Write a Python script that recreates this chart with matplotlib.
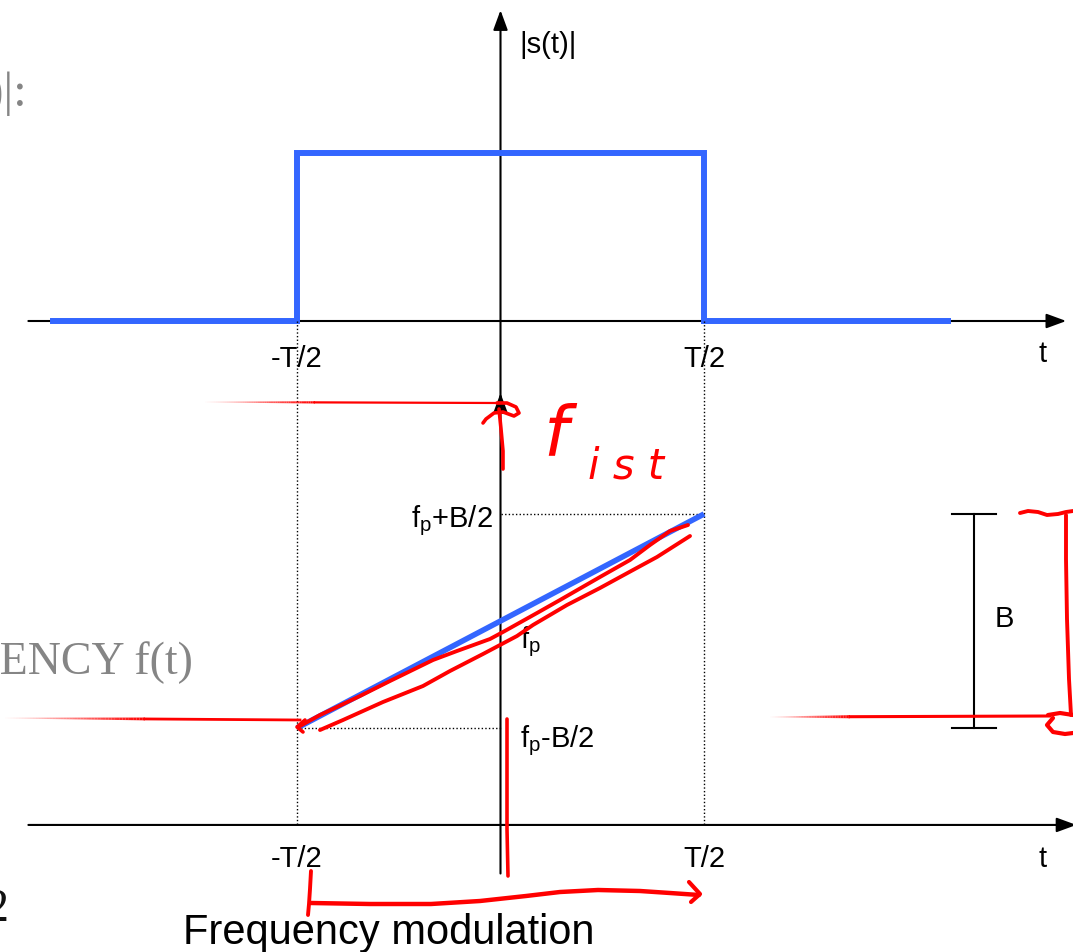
import matplotlib
matplotlib.use("Agg")
import matplotlib.pyplot as plt
import numpy as np
from matplotlib.collections import LineCollection

plt.rcParams['font.family'] = ['Liberation Sans', 'DejaVu Sans']
plt.rcParams['mathtext.fontset'] = 'custom'
plt.rcParams['mathtext.rm'] = 'Liberation Sans'
plt.rcParams['mathtext.it'] = 'Liberation Sans:italic'

W, H = 1073, 953
BLUE = '#3366ff'
RED = '#ff0000'

# envelope |s(t)| of the pulse, t in units of T
pulse_t = [-1.1, -0.5, -0.5, 0.5, 0.5, 1.1]
pulse_s = [0, 0, 1, 1, 0, 0]

# instantaneous frequency, offset from f_p in units of B
chirp_t = [-0.5, 0.5]
chirp_f = [-0.5, 0.5]

t_ticks = [-0.5, 0.5]
t_labels = ['-T/2', 'T/2']
f_top, f_mid, f_bot = 0.5, 0.0, -0.5
f_labels = [r'$\mathregular{f_p}$+B/2', r'$\mathregular{f_p}$', r'$\mathregular{f_p}$-B/2']


def limits(v0, p0, v1, p1, n):
    # data values at pixel 0 and pixel n for a linear map v0->p0, v1->p1
    k = (v1 - v0) / (p1 - p0)
    return v0 - k * p0, v0 + k * (n - p0)


fig = plt.figure(figsize=(W / 100, H / 100), dpi=100)
ax_s = fig.add_axes([0, 0, 1, 1])
ax_f = fig.add_axes([0, 0, 1, 1])
ax = fig.add_axes([0, 0, 1, 1])  # freehand pen layer, pixel units

tx0, tx1 = limits(-0.5, 297, 0.5, 704, W)
sy0, sy1 = limits(0, 322, 1, 154, H)
fy0, fy1 = limits(-0.5, 729, 0.5, 515, H)
for a in (ax_s, ax_f):
    a.set_xlim(tx0, tx1)
    a.axis('off')
ax_s.set_ylim(sy1, sy0)
ax_f.set_ylim(fy1, fy0)
ax.set_xlim(0, W)
ax.set_ylim(H, 0)
ax.axis('off')

arrow = dict(arrowstyle='-|>,head_length=0.6,head_width=0.22', color='k', lw=1.5,
             mutation_scale=20, shrinkA=0, shrinkB=0)

# ---- upper panel: |s(t)|
ax_s.annotate('', xy=(1.39, 0), xytext=(-1.16, 0), arrowprops=arrow,
              annotation_clip=False)
ax_s.annotate('', xy=(0, 1.85), xytext=(0, -0.46), arrowprops=arrow,
              annotation_clip=False)
ax_s.plot(pulse_t, pulse_s, color=BLUE, lw=4.3, solid_joinstyle='miter', zorder=3)
for t, lab in zip(t_ticks, t_labels):
    ax_s.text(t, -0.27, lab, ha='center', va='baseline', fontsize=21)
ax_s.text(1.333, -0.24, 't', ha='center', va='baseline', fontsize=21)
ax_s.text(0.047, 1.600, '|s(t)|', ha='left', va='baseline', fontsize=21)

# ---- lower panel: f(t)
f_axis = -0.953
ax_f.annotate('', xy=(1.415, f_axis), xytext=(-1.16, f_axis), arrowprops=arrow,
              annotation_clip=False)
ax_f.annotate('', xy=(0, 1.065), xytext=(0, -1.18), arrowprops=arrow,
              annotation_clip=False)
dots = dict(color='k', lw=1.0, ls=(0, (1, 1.6)))
for t in t_ticks:
    ax_f.plot([t, t], [1.40, f_axis], **dots)
ax_f.plot([0, 0.5], [f_top, f_top], **dots)
ax_f.plot([-0.5, 0], [f_bot, f_bot], **dots)
ax_f.plot(chirp_t, chirp_f, color=BLUE, lw=4.0, solid_capstyle='butt', zorder=3)
for t, lab in zip(t_ticks, t_labels):
    ax_f.text(t, -1.145, lab, ha='center', va='baseline', fontsize=21)
ax_f.text(1.333, -1.145, 't', ha='center', va='baseline', fontsize=21)
ax_f.text(-0.018, f_top - 0.056, f_labels[0], ha='right', va='baseline', fontsize=21)
ax_f.text(0.047, f_mid - 0.122, f_labels[1], ha='left', va='baseline', fontsize=21)
ax_f.text(0.047, f_bot - 0.084, f_labels[2], ha='left', va='baseline', fontsize=21)

# bandwidth bar
tb, cap = 1.163, 0.054
ax_f.plot([tb, tb], [f_bot, f_top], color='k', lw=1.5)
for f in (f_bot, f_top):
    ax_f.plot([tb - cap, tb + cap], [f, f], color='k', lw=1.5)
ax_f.text(tb + 0.052, -0.025, 'B', ha='left', va='baseline', fontsize=21)

# ---- slide text running off the left border
ax.text(27, 106, '|s(t)|:', ha='right', va='baseline', fontsize=35,
        family='Liberation Serif', color='#858585')
ax.text(193, 674, 'FREQUENCY f(t)', ha='right', va='baseline', fontsize=33,
        family='Liberation Serif', color='#858585')
ax.text(9, 921, '2', ha='right', va='baseline', fontsize=33,
        family='Liberation Serif', color='#111111')
ax.text(183, 944, 'Frequency modulation', ha='left', va='baseline', fontsize=30,
        color='k')


# ---- red pen annotations
def pen(pts, lw=2.8):
    p = np.array(pts, dtype=float)
    ax.plot(p[:, 0], p[:, 1], color=RED, lw=lw, solid_capstyle='round',
            solid_joinstyle='round', zorder=5)


def faded(x0, x1, y0, y1, fade, lw):
    # straight stroke that fades in from the left end
    n = 50
    xs = np.linspace(x0, x0 + fade, n + 1)
    ys = y0 + (y1 - y0) * (xs - x0) / (x1 - x0)
    segs = [[(xs[i], ys[i]), (xs[i + 1], ys[i + 1])] for i in range(n)]
    cols = [(1, 0, 0, a) for a in np.linspace(0.03, 1, n)]
    ax.add_collection(LineCollection(segs, colors=cols,
                                     linewidths=np.linspace(0.6, lw, n), zorder=5))
    ax.plot([xs[-1], x1], [ys[-1], y1], color=RED, lw=lw, zorder=5)


faded(205, 499, 403, 404, 110, 1.6)
pen([(497, 404), (507, 404), (516, 408), (519, 414), (514, 417), (503, 413),
     (494, 414), (486, 420), (483, 424)], 2.6)
pen([(499, 410), (501, 430), (503, 452), (503, 470)], 2.6)

faded(5, 300, 719, 721, 140, 2.0)
pen([(305, 721), (297, 728), (303, 733)], 2.6)
pen([(300, 727), (320, 716), (337, 708), (360, 697), (390, 682), (433, 661),
     (457, 652), (490, 640), (503, 633), (537, 614), (560, 601), (600, 578),
     (630, 561), (650, 546), (670, 532), (688, 526)])
pen([(320, 731), (343, 721), (383, 703), (423, 687), (450, 672), (483, 655),
     (500, 646), (517, 637), (533, 626), (567, 606), (600, 589), (633, 571),
     (657, 558), (690, 537)])

faded(770, 1050, 718, 717, 80, 2.2)
pen([(1048, 716), (1060, 714), (1073, 716)], 3.0)
pen([(1053, 719), (1047, 726), (1053, 733), (1065, 735), (1073, 734)], 3.0)
pen([(1020, 514), (1028, 512), (1038, 513), (1047, 516), (1058, 515),
     (1066, 513), (1073, 512)])
pen([(1066, 516), (1066, 560), (1067, 620), (1069, 680), (1071, 716)])

pen([(507, 720), (507, 780), (507, 830), (508, 877)], 2.6)

pen([(311, 872), (310, 890), (309, 905), (308, 916)])
pen([(311, 904), (370, 905), (431, 905), (480, 902), (526, 897), (560, 893),
     (598, 891), (640, 892), (670, 894), (699, 896)], 3.2)
pen([(689, 883), (700, 895), (691, 903)], 3.0)

# handwritten label next to the arrow
ax.text(543, 455, 'f', ha='left', va='baseline', fontsize=50, color=RED,
        family='DejaVu Sans', style='italic', weight='light')
ax.text(588, 479, 'i s t', ha='left', va='baseline', fontsize=30, color=RED,
        family='DejaVu Sans', style='italic')

fig.savefig('out.png', dpi=100)
